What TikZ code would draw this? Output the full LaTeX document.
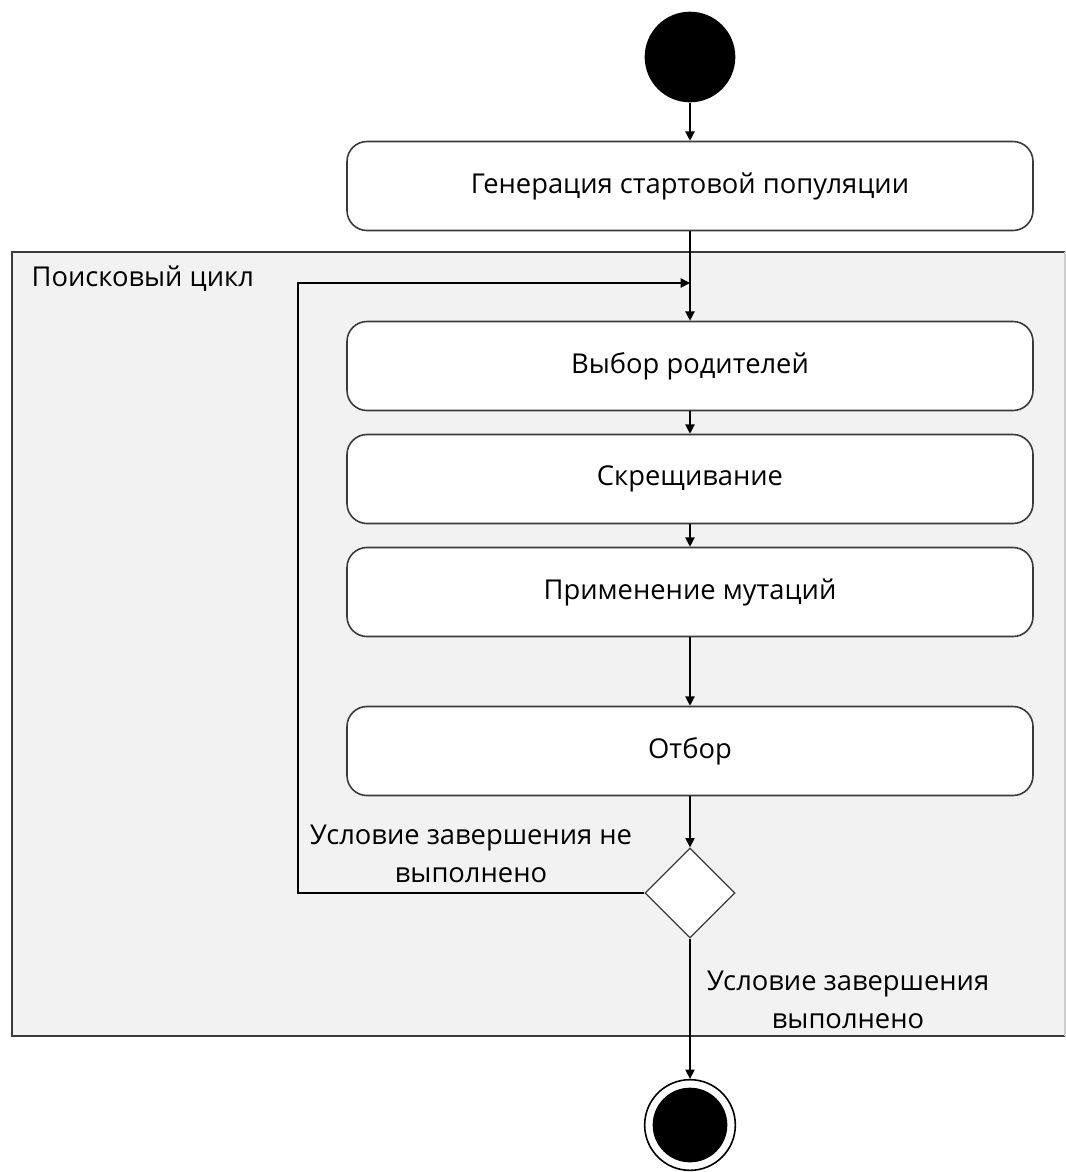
\documentclass[tikz,border=0pt]{standalone}
\usepackage{fontspec}
\setmainfont{Open Sans}
\usetikzlibrary{arrows.meta,shapes.geometric}
\definecolor{framefill}{HTML}{F2F2F2}
\definecolor{edge}{HTML}{3A3A3A}
\begin{document}
\begin{tikzpicture}[x=0.75pt,y=-0.75pt,
  txt/.style={font=\fontsize{20.5}{29}\selectfont},
  actbox/.style={draw=edge,line width=1.2pt,fill=white,rounded corners=15pt,
    minimum width=514.5pt,minimum height=66.75pt,inner sep=0pt,txt},
  arr/.style={draw=black,line width=1pt,-{Triangle[length=7pt,width=7pt]}},
  plain/.style={draw=black,line width=1pt}]
\useasboundingbox (0,0) rectangle (1066,1172);
% frame
\fill[framefill] (12,252) rectangle (1065,1036);
\draw[edge,line width=1.2pt] (1065,252) -- (12,252) -- (12,1036) -- (1065,1036);
\draw[gray!40,line width=0.8pt] (1065,252) -- (1065,1036);
\node[txt,anchor=west] (looplabel) at (27,279) {Поисковый цикл};
% nodes
\node[circle,fill=black,minimum size=68pt,inner sep=0pt] (start) at (690,57) {};
\node[actbox] (gen) at (690,186) {Генерация стартовой популяции};
\node[actbox] (sel) at (690,366) {Выбор родителей};
\node[actbox] (cross) at (690,479) {Скрещивание};
\node[actbox] (mut) at (690,592) {Применение мутаций};
\node[actbox] (otb) at (690,751) {Отбор};
\node[diamond,draw=edge,line width=1pt,fill=white,minimum width=67.5pt,minimum height=67.5pt,inner sep=0pt] (dia) at (690,893) {};
\node[circle,draw=black,line width=1.2pt,fill=white,minimum size=68pt,inner sep=0pt,
  path picture={\fill[black] (path picture bounding box.center) circle (28pt);}] (end) at (690,1125) {};
\coordinate (loopin) at (690,283);
\coordinate (loopbl) at (298,893);
\coordinate (looptl) at (298,283);
% connectors
\draw[arr] (start) -- (gen);
\draw[arr] (gen) -- (sel);
\draw[arr] (sel) -- (cross);
\draw[arr] (cross) -- (mut);
\draw[arr] (mut) -- (otb);
\draw[arr] (otb) -- (dia);
\draw[arr] (dia) -- (end);
\draw[arr] (dia.west) -- (loopbl) -- (looptl) -- (loopin);
% labels
\node[txt,align=center] (notdone) at (471,854) {Условие завершения не\\выполнено};
\node[txt,align=center] (done) at (848,1000) {Условие завершения\\выполнено};
\end{tikzpicture}
\end{document}
